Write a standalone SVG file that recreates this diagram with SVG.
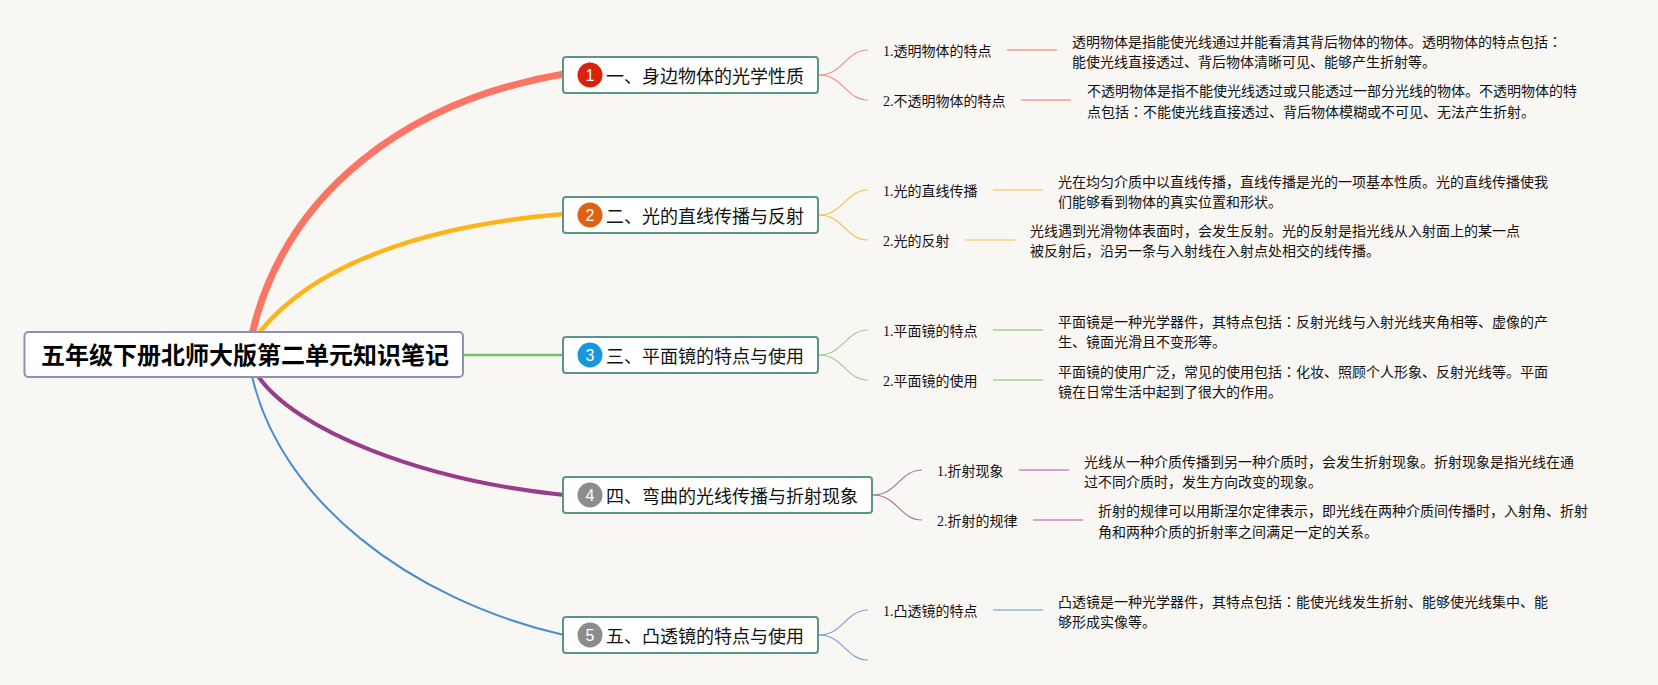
<svg xmlns="http://www.w3.org/2000/svg" width="1658" height="685" viewBox="0 0 1658 685">
<style>
text{font-family:"Noto Sans CJK SC","Liberation Sans",sans-serif;fill:#111}
.root{font-size:24px;font-weight:700;fill:#000}
.rootbox{fill:#fff;stroke:#8a94b2;stroke-width:2}
.box{fill:#fff;stroke:#5b9488;stroke-width:2}
.bt{font-size:18px}
.sl{font-size:14px;font-family:"Liberation Serif","Noto Sans CJK SC",serif}
.d{font-size:14px}
.jp{font-family:"Noto Sans CJK JP",sans-serif}
.num{font-size:16px;fill:#fff;text-anchor:middle;font-family:"Liberation Sans",sans-serif}
.c{fill:none;stroke-linecap:butt}
.s{fill:none;stroke-width:1.200}
.h{fill:none;stroke-width:2}
</style>
<rect width="1658" height="685" fill="#f9f7f4"/>
<g id="connectors">
<path class="c" stroke="#fb7565" stroke-width="7" d="M252 334C286 190 410 100 564 74"/>
<path class="c" stroke="#fdb31a" stroke-width="4.500" d="M259 333C315 262 430 225 564 214"/>
<path class="c" stroke="#6cc15e" stroke-width="2.500" d="M463 355H564"/>
<path class="c" stroke="#993d88" stroke-width="4" d="M258 376C295 430 420 480 564 495"/>
<path class="c" stroke="#4a8cd0" stroke-width="2" d="M252 376C280 500 410 600 564 635"/>
<g stroke="#f28f84">
<path class="s" d="M819 75C843 75 846 50 868 50"/><path class="s" d="M819 75C843 75 846 100 868 100"/>
</g>
<g stroke="#f7c050">
<path class="s" d="M819 215C843 215 846 190 868 190"/><path class="s" d="M819 215C843 215 846 240 868 240"/>
</g>
<g stroke="#9ed088">
<path class="s" d="M819 355C843 355 846 330 868 330"/><path class="s" d="M819 355C843 355 846 380 868 380"/>
</g>
<g stroke="#b071a4">
<path class="s" d="M873 495C897 495 900 470 922 470"/><path class="s" d="M873 495C897 495 900 520 922 520"/>
</g>
<g stroke="#76a3dc">
<path class="s" d="M819 635C843 635 846 610 868 610"/><path class="s" d="M819 635C843 635 846 660 868 660"/>
</g>
<path class="h" stroke="#f3b3a9" d="M1007 50H1057M1021 100H1071"/>
<path class="h" stroke="#f9d9a2" d="M993 190H1043M965 240H1015"/>
<path class="h" stroke="#b8dcab" d="M993 330H1043M993 380H1043"/>
<path class="h" stroke="#cfa6c9" d="M1019 470H1069M1033 520H1083"/>
<path class="h" stroke="#a8c6e6" d="M993 610H1043"/>
</g>
<g id="root"><rect class="rootbox" x="24.500" y="332" width="438.500" height="45" rx="4"/><text class="root" x="41" y="364">五年级下册北师大版第二单元知识笔记</text></g>
<g id="b1"><rect class="box" x="563" y="57" width="255" height="36" rx="3"/><circle cx="590" cy="75" r="12.500" fill="#d8220c"/><text class="num" x="590" y="81">1</text><text class="bt" x="606" y="82.500">一、身边物体的光学性质</text></g>
<g id="b2"><rect class="box" x="563" y="197" width="255" height="36" rx="3"/><circle cx="590" cy="215" r="12.500" fill="#e0620f"/><text class="num" x="590" y="221">2</text><text class="bt" x="606" y="222.500">二、光的直线传播与反射</text></g>
<g id="b3"><rect class="box" x="563" y="337" width="255" height="36" rx="3"/><circle cx="590" cy="355" r="12.500" fill="#1a96dc"/><text class="num" x="590" y="361">3</text><text class="bt" x="606" y="362.500">三、平面镜的特点与使用</text></g>
<g id="b4"><rect class="box" x="563" y="477" width="309" height="36" rx="3"/><circle cx="590" cy="495" r="12.500" fill="#8c8c8c"/><text class="num" x="590" y="501">4</text><text class="bt" x="606" y="502.500">四、弯曲的光线传播与折射现象</text></g>
<g id="b5"><rect class="box" x="563" y="617" width="255" height="36" rx="3"/><circle cx="590" cy="635" r="12.500" fill="#8c8c8c"/><text class="num" x="590" y="641">5</text><text class="bt" x="606" y="642.500">五、凸透镜的特点与使用</text></g>
<g id="s11"><text class="sl" x="883" y="56">1.透明物体的特点</text><text class="d" x="1072" y="47">透明物体是指能使光线通过并能看清其背后物体的物体。透明物体的特点包括<tspan class="jp">：</tspan></text><text class="d" x="1072" y="67">能使光线直接透过、背后物体清晰可见、能够产生折射等。</text></g>
<g id="s12"><text class="sl" x="883" y="106">2.不透明物体的特点</text><text class="d" x="1087" y="96">不透明物体是指不能使光线透过或只能透过一部分光线的物体。不透明物体的特</text><text class="d" x="1087" y="117">点包括<tspan class="jp">：</tspan>不能使光线直接透过、背后物体模糊或不可见、无法产生折射。</text></g>
<g id="s21"><text class="sl" x="883" y="196">1.光的直线传播</text><text class="d" x="1058" y="187">光在均匀介质中以直线传播，直线传播是光的一项基本性质。光的直线传播使我</text><text class="d" x="1058" y="207">们能够看到物体的真实位置和形状。</text></g>
<g id="s22"><text class="sl" x="883" y="246">2.光的反射</text><text class="d" x="1030" y="236">光线遇到光滑物体表面时，会发生反射。光的反射是指光线从入射面上的某一点</text><text class="d" x="1030" y="256">被反射后，沿另一条与入射线在入射点处相交的线传播。</text></g>
<g id="s31"><text class="sl" x="883" y="336">1.平面镜的特点</text><text class="d" x="1058" y="327">平面镜是一种光学器件，其特点包括<tspan class="jp">：</tspan>反射光线与入射光线夹角相等、虚像的产</text><text class="d" x="1058" y="347">生、镜面光滑且不变形等。</text></g>
<g id="s32"><text class="sl" x="883" y="386">2.平面镜的使用</text><text class="d" x="1058" y="377">平面镜的使用广泛，常见的使用包括<tspan class="jp">：</tspan>化妆、照顾个人形象、反射光线等。平面</text><text class="d" x="1058" y="397">镜在日常生活中起到了很大的作用。</text></g>
<g id="s41"><text class="sl" x="937" y="476">1.折射现象</text><text class="d" x="1084" y="467">光线从一种介质传播到另一种介质时，会发生折射现象。折射现象是指光线在通</text><text class="d" x="1084" y="487">过不同介质时，发生方向改变的现象。</text></g>
<g id="s42"><text class="sl" x="937" y="526">2.折射的规律</text><text class="d" x="1098" y="516">折射的规律可以用斯涅尔定律表示，即光线在两种介质间传播时，入射角、折射</text><text class="d" x="1098" y="537">角和两种介质的折射率之间满足一定的关系。</text></g>
<g id="s51"><text class="sl" x="883" y="616">1.凸透镜的特点</text><text class="d" x="1058" y="607">凸透镜是一种光学器件，其特点包括<tspan class="jp">：</tspan>能使光线发生折射、能够使光线集中、能</text><text class="d" x="1058" y="627">够形成实像等。</text></g>
</svg>
